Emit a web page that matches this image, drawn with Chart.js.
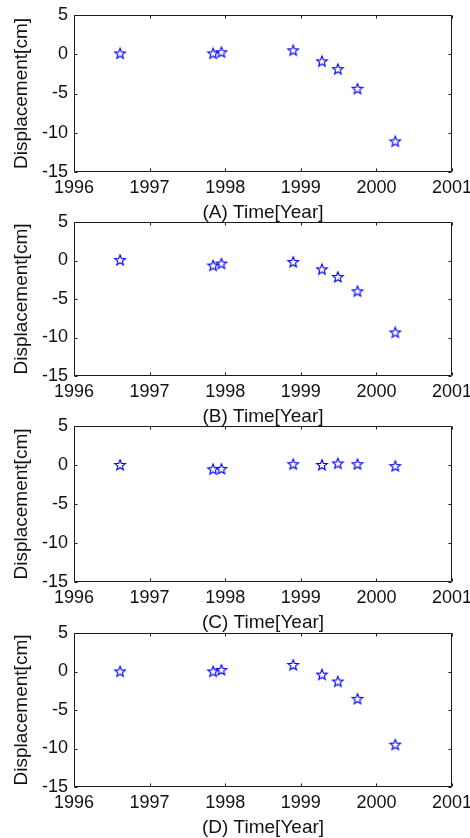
<!DOCTYPE html>
<html><head><meta charset="utf-8">
<script src="https://cdn.jsdelivr.net/npm/chart.js@4"></script>
<style>
html,body{margin:0;padding:0;background:#fff;width:470px;height:838px;overflow:hidden;position:relative}
.p{position:absolute;left:0;width:470px}
canvas{display:block}
</style></head><body>
<div class="p" id="w0"><canvas id="c0"></canvas></div>
<div class="p" id="w1"><canvas id="c1"></canvas></div>
<div class="p" id="w2"><canvas id="c2"></canvas></div>
<div class="p" id="w3"><canvas id="c3"></canvas></div>
<script>
// ---- data ----
const years = [1996.61, 1997.84, 1997.95, 1998.90, 1999.28, 1999.49, 1999.75, 2000.25];
const dispA = [0.1, 0.1, 0.25, 0.5, -0.9, -1.9, -4.4, -11.1];
const dispB = [0.05, -0.65, -0.4, -0.2, -1.15, -2.15, -4.0, -9.35];
const dispC = [0.0, -0.55, -0.5, 0.1, 0.0, 0.2, 0.1, -0.15];
const dispD = [0.0, 0.0, 0.2, 0.85, -0.4, -1.3, -3.55, -9.5];
const panelSeries = [dispA, dispB, dispC, dispD];
const panelLabels = ['(A) Time[Year]', '(B) Time[Year]', '(C) Time[Year]', '(D) Time[Year]'];
const yAxisLabel = 'Displacement[cm]';
const xTickValues = [1996, 1997, 1998, 1999, 2000, 2001];
const yTickValues = [-15, -10, -5, 0, 5];

// ---- layout ----
const areaTops = [15, 222, 426, 633];
const areaBottoms = [172, 376, 582, 787];
const PAD_TOP = 15, X_AXIS_H = 54, Y_AXIS_W = 74, PAD_RIGHT = 18;

const fam = "'Liberation Sans',Arial,Helvetica,sans-serif";

// star marker image
function makeStar() {
  const c = document.createElement('canvas');
  c.width = 14; c.height = 14;
  const g = c.getContext('2d');
  const cx = 7, cy = 7.3, R = 5.6, r = 2.4;
  g.beginPath();
  for (let i = 0; i < 10; i++) {
    const rad = i % 2 === 0 ? R : r;
    const a = -Math.PI / 2 + i * Math.PI / 5;
    const px = cx + rad * Math.cos(a), py = cy + rad * Math.sin(a);
    if (i === 0) g.moveTo(px, py); else g.lineTo(px, py);
  }
  g.closePath();
  g.strokeStyle = '#0000ff';
  g.lineWidth = 1.1;
  g.stroke();
  return c;
}
const starImg = makeStar();

const boxPlugin = {
  id: 'boxPlugin',
  afterDraw(chart) {
    const ctx = chart.ctx, a = chart.chartArea;
    const L = Math.round(a.left) + 0.5, R = Math.round(a.right) - 0.5;
    const T = Math.round(a.top) + 0.5, B = Math.round(a.bottom) - 0.5;
    ctx.save();
    ctx.strokeStyle = '#1a1a1a';
    ctx.lineWidth = 1;
    ctx.beginPath();
    ctx.rect(L, T, R - L, B - T);
    const tl = 3;
    chart.scales.x.ticks.forEach(t => {
      const px = Math.round(chart.scales.x.getPixelForValue(t.value)) + 0.5;
      ctx.moveTo(px, B); ctx.lineTo(px, B - tl);
      ctx.moveTo(px, T); ctx.lineTo(px, T + tl);
    });
    chart.scales.y.ticks.forEach(t => {
      const py = Math.round(chart.scales.y.getPixelForValue(t.value)) + 0.5;
      ctx.moveTo(L, py); ctx.lineTo(L + tl, py);
      ctx.moveTo(R, py); ctx.lineTo(R - tl, py);
    });
    ctx.stroke();
    ctx.restore();
  }
};

panelSeries.forEach((vals, i) => {
  const wrap = document.getElementById('w' + i);
  const canvas = document.getElementById('c' + i);
  const h = PAD_TOP + (areaBottoms[i] - areaTops[i]) + X_AXIS_H;
  wrap.style.top = (areaTops[i] - PAD_TOP) + 'px';
  canvas.width = 470; canvas.height = h;
  canvas.style.width = '470px'; canvas.style.height = h + 'px';
  new Chart(canvas, {
    type: 'scatter',
    data: {
      datasets: [{
        data: years.map((x, k) => ({ x: x, y: vals[k] })),
        pointStyle: starImg,
        pointRadius: 6,
        pointHoverRadius: 6,
        showLine: false
      }]
    },
    options: {
      responsive: false,
      animation: false,
      devicePixelRatio: 1,
      events: [],
      layout: { autoPadding: false, padding: { top: PAD_TOP, right: PAD_RIGHT, left: 0, bottom: 0 } },
      plugins: { legend: { display: false }, tooltip: { enabled: false } },
      scales: {
        x: {
          type: 'linear', min: 1996, max: 2001,
          afterBuildTicks: s => { s.ticks = xTickValues.map(v => ({ value: v })); },
          afterFit: s => { s.height = X_AXIS_H; s.paddingLeft = 0; s.paddingRight = 0; },
          grid: { display: false, drawTicks: false },
          border: { display: false },
          ticks: { color: '#111', padding: 5, maxRotation: 0, autoSkip: false,
                   font: { family: fam, size: 18 }, callback: v => String(v) },
          title: { display: true, text: panelLabels[i], color: '#111', padding: { top: 0, bottom: 2 },
                   font: { family: fam, size: 19 } }
        },
        y: {
          type: 'linear', min: -15, max: 5,
          afterBuildTicks: s => { s.ticks = yTickValues.map(v => ({ value: v })); },
          afterFit: s => { s.width = Y_AXIS_W; s.paddingTop = 0; s.paddingBottom = 0; },
          grid: { display: false, drawTicks: false },
          border: { display: false },
          ticks: { color: '#111', padding: 6, font: { family: fam, size: 18 }, callback: v => String(v) },
          title: { display: true, text: yAxisLabel, color: '#111', padding: { top: 10, bottom: 0 },
                   font: { family: fam, size: 19 } }
        }
      }
    },
    plugins: [boxPlugin]
  });
});
</script>
</body></html>
